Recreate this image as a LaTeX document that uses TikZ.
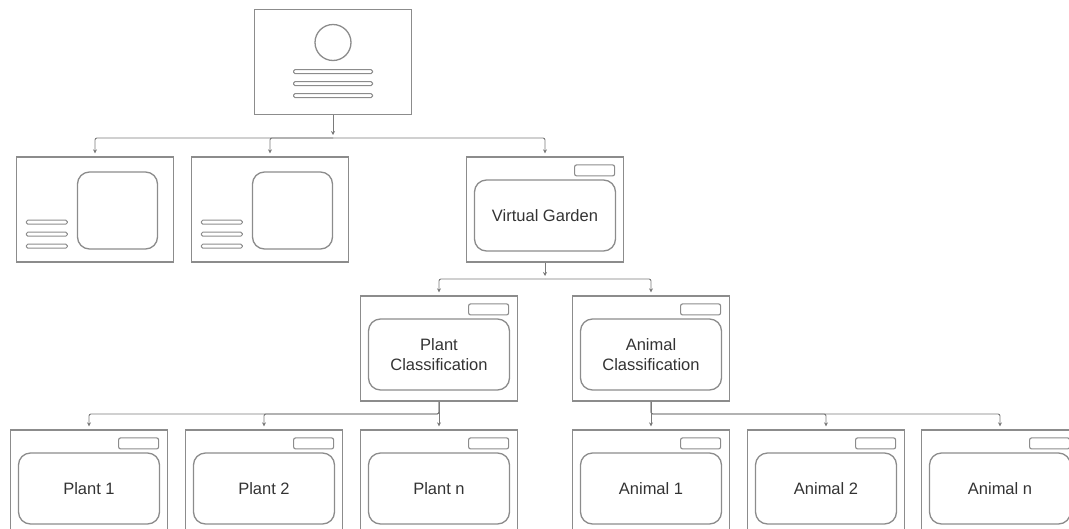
\documentclass[tikz,border=0pt]{standalone}
\usepackage{fontspec}
\setmainfont{Liberation Sans}
\usepackage{xcolor}
\usetikzlibrary{arrows.meta, positioning, calc}
\definecolor{boxgray}{HTML}{8C8C8C}
\definecolor{linkgray}{HTML}{7A7A7A}
\definecolor{textgray}{HTML}{333333}

\begin{document}
\begin{tikzpicture}[x=1pt, y=-1pt,
    screen/.style={draw=boxgray, line width=1.3pt, minimum width=157pt, minimum height=105pt, inner sep=0pt},
    panel/.style={draw=boxgray, line width=1.3pt, rounded corners=12pt, minimum width=141pt, minimum height=71pt,
        inner sep=0pt, align=center, text=textgray, font=\fontsize{16.5}{20}\selectfont},
    tab/.style={draw=boxgray, line width=1.1pt, rounded corners=2pt, minimum width=40pt, minimum height=11pt, inner sep=0pt},
    bar/.style={draw=boxgray, line width=1pt, rounded corners=1.5pt, minimum height=4pt, inner sep=0pt},
    link/.style={draw=linkgray, line width=0.9pt, rounded corners=2pt, -{Stealth[length=4pt, width=4pt]}, shorten >=3pt}]

    \useasboundingbox (0,0) rectangle (1069,528);
    \clip (0,0) rectangle (1069,528);

    % home screen
    \node[screen] (home) at (333,62) {};
    \node[draw=boxgray, line width=1.3pt, circle, minimum size=36pt, inner sep=0pt, below=15pt of home.north] (avatar) {};
    \node[bar, minimum width=79pt, below=8pt of avatar] (hbar1) {};
    \node[bar, minimum width=79pt, below=7pt of hbar1] (hbar2) {};
    \node[bar, minimum width=79pt, below=7pt of hbar2] (hbar3) {};

    % picture screens
    \node[screen] (intro1) at (95,209.5) {};
    \node[screen] (intro2) at (270,209.5) {};
    \foreach \s in {intro1, intro2} {
        \node[panel, minimum width=80pt, minimum height=77pt, below left=15pt and 16pt of \s.north east] (\s-pic) {};
        \node[bar, minimum width=41pt, above right=14pt and 10pt of \s.south west] (\s-bar3) {};
        \node[bar, minimum width=41pt, above=7pt of \s-bar3] (\s-bar2) {};
        \node[bar, minimum width=41pt, above=7pt of \s-bar2] (\s-bar1) {};
    }

    % content screens
    \foreach \s/\x/\y/\t in {garden/545/209.5/{Virtual Garden},
            plantcls/439/348.5/{Plant\\Classification}, animalcls/651/348.5/{Animal\\Classification},
            plant1/89/482.5/{Plant 1}, plant2/264/482.5/{Plant 2}, plantn/439/482.5/{Plant n},
            animal1/651/482.5/{Animal 1}, animal2/826/482.5/{Animal 2}, animaln/1000/482.5/{Animal n}} {
        \node[screen] (\s) at (\x,\y) {};
        \node[tab, below left=8pt and 9pt of \s.north east] (\s-tab) {};
        \node[panel, below=23pt of \s.north] (\s-panel) {\t};
    }

    \coordinate (bus1) at (0,138);
    \coordinate (bus2) at (0,279);
    \coordinate (bus3) at (0,414);

    \draw[link] (home.south) -- (home.south |- bus1);
    \foreach \c in {intro1, intro2, garden}
        \draw[link] (home.south |- bus1) -| (\c.north);

    \draw[link] (garden.south) -- (garden.south |- bus2);
    \foreach \c in {plantcls, animalcls}
        \draw[link] (garden.south |- bus2) -| (\c.north);

    \draw[link] (plantcls.south) -- (plantn.north);
    \foreach \c in {plant1, plant2}
        \draw[link] (plantcls.south) -- (plantcls.south |- bus3) -| (\c.north);

    \draw[link] (animalcls.south) -- (animal1.north);
    \foreach \c in {animal2, animaln}
        \draw[link] (animalcls.south) -- (animalcls.south |- bus3) -| (\c.north);
\end{tikzpicture}
\end{document}
